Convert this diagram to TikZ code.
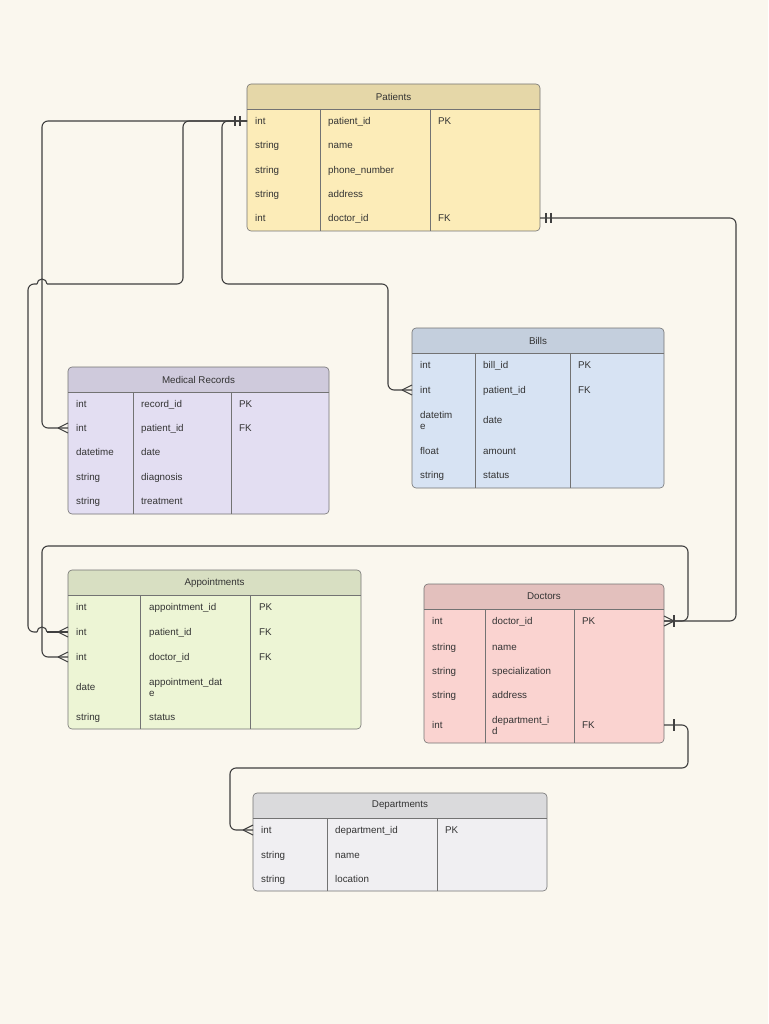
\documentclass[tikz,border=0pt]{standalone}
\usepackage{fontspec}
\setmainfont{Liberation Sans}
\begin{document}
\begin{tikzpicture}[x=1pt,y=-1pt,
  txt/.style={anchor=base west,inner sep=0,yshift=-3.5pt,font=\fontsize{9.8}{11.5}\selectfont,text=black!80,align=left},
  ttl/.style={inner sep=0,font=\fontsize{9.8}{10}\selectfont,text=black!80},
  conn/.style={line width=1.1pt,draw=black!75,rounded corners=6pt},
  mk/.style={line width=1.1pt,draw=black!75}]
\definecolor{bgc}{RGB}{250,247,238}
\definecolor{cPat}{RGB}{252,236,184}
\definecolor{cBill}{RGB}{215,227,243}
\definecolor{cMed}{RGB}{227,222,242}
\definecolor{cApp}{RGB}{237,245,213}
\definecolor{cDoc}{RGB}{250,211,208}
\definecolor{cDep}{RGB}{240,239,242}
\fill[bgc] (0,0) rectangle (768,1024);
\useasboundingbox (0,0) rectangle (768,1024);
\newcommand{\tb}[9]{%
  \fill[#9,rounded corners=4pt] (#1,#2) rectangle (#3,#4);
  \begin{scope}
    \clip[rounded corners=4pt] (#1,#2) rectangle (#3,#4);
    \fill[#9!91!black] (#1,#2) rectangle (#3,#5);
  \end{scope}
  \draw[black!55,line width=0.6pt] (#1,#5) -- (#3,#5) (#6,#5) -- (#6,#4) (#7,#5) -- (#7,#4);
  \draw[black!55,line width=0.6pt,rounded corners=4pt] (#1,#2) rectangle (#3,#4);
  \node[ttl] at ({(#1+#3)/2},{(#2+#5)/2}) {#8};}
% Patients
\tb{247}{84}{540}{231}{109}{320}{430}{Patients}{cPat}
\foreach \y/\a/\b/\c [count=\i] in {121/int/patient\_id/PK,145/string/name/,170/string/phone\_number/,194/string/address/,218/int/doctor\_id/FK}{
  \node[txt] (pa\i) at (255,\y) {\a}; \node[txt] (pb\i) at (328,\y) {\b}; \node[txt] (pc\i) at (438,\y) {\c};}
% Bills
\tb{412}{328}{664}{488}{353}{475}{570}{Bills}{cBill}
\foreach \y/\a/\c [count=\i] in {365/int/PK,390/int/FK,451/float/,475/string/}{
  \node[txt] (ba\i) at (420,\y) {\a}; \node[txt] (bc\i) at (578,\y) {\c};}
\node[txt] (ba5) at (420,426) {datetim\\e};
\node[txt] (bb1) at (483,365) {bill\_id};
\node[txt] (bb2) at (483,390) {patient\_id};
\node[txt] (bb3) at (483,420) {date};
\node[txt] (bb4) at (483,451) {amount};
\node[txt] (bb5) at (483,475) {status};
% Medical Records
\tb{68}{367}{329}{514}{392}{133}{231}{Medical Records}{cMed}
\foreach \y/\a/\b/\c [count=\i] in {404/int/record\_id/PK,428/int/patient\_id/FK,452/datetime/date/,477/string/diagnosis/,501/string/treatment/}{
  \node[txt] (ma\i) at (76,\y) {\a}; \node[txt] (mb\i) at (141,\y) {\b}; \node[txt] (mc\i) at (239,\y) {\c};}
% Appointments
\tb{68}{570}{361}{729}{595}{140}{250}{Appointments}{cApp}
\foreach \y/\a/\c [count=\i] in {607/int/PK,632/int/FK,657/int/FK,687/date/,717/string/}{
  \node[txt] (aa\i) at (76,\y) {\a}; \node[txt] (ac\i) at (259,\y) {\c};}
\node[txt] (ab1) at (149,607) {appointment\_id};
\node[txt] (ab2) at (149,632) {patient\_id};
\node[txt] (ab3) at (149,657) {doctor\_id};
\node[txt] (ab4) at (149,693) {appointment\_dat\\e};
\node[txt] (ab5) at (149,717) {status};
% Doctors
\tb{424}{584}{664}{743}{609}{485}{574}{Doctors}{cDoc}
\foreach \y/\a/\c [count=\i] in {621/int/PK,647/string/,671/string/,695/string/,725/int/FK}{
  \node[txt] (da\i) at (432,\y) {\a}; \node[txt] (dc\i) at (582,\y) {\c};}
\node[txt] (db1) at (492,621) {doctor\_id};
\node[txt] (db2) at (492,647) {name};
\node[txt] (db3) at (492,671) {specialization};
\node[txt] (db4) at (492,695) {address};
\node[txt] (db5) at (492,731) {department\_i\\d};
% Departments
\tb{253}{793}{547}{891}{818}{327}{437}{Departments}{cDep}
\foreach \y/\a/\b/\c [count=\i] in {830/int/department\_id/PK,855/string/name/,879/string/location/}{
  \node[txt] (ea\i) at (261,\y) {\a}; \node[txt] (eb\i) at (335,\y) {\b}; \node[txt] (ec\i) at (445,\y) {\c};}
% anchor coordinates
\coordinate (PatL) at (247,121); \coordinate (PatR) at (540,218);
\coordinate (MedP) at (68,428); \coordinate (BillP) at (412,390);
\coordinate (AppP) at (68,632); \coordinate (AppD) at (68,657);
\coordinate (DocR) at (664,621); \coordinate (DocDep) at (664,725);
\coordinate (DepL) at (253,830);
\coordinate (H1) at (47,284); \coordinate (H2) at (37,284);
\coordinate (H3) at (37,632); \coordinate (H4) at (47,632);
% connectors
\draw[conn] (PatL) -- (42,121) -- (42,428) -- (MedP);
\draw[conn] (PatL) -- (183,121) -- (183,284) -- (H1);
\draw[mk] (H1) arc[start angle=0,end angle=-180,radius=5];
\draw[conn] (H2) -- (28,284) -- (28,632) -- (H3);
\draw[mk] (H3) arc[start angle=180,end angle=360,radius=5];
\draw[conn] (H4) -- (AppP);
\draw[conn] (PatL) -- (222,121) -- (222,284) -- (388,284) -- (388,390) -- (BillP);
\draw[conn] (PatR) -- (736,218) -- (736,621) -- (DocR);
\draw[conn] (DocR) -- (688,621) -- (688,546) -- (42,546) -- (42,657) -- (AppD);
\draw[conn] (DocDep) -- (688,725) -- (688,768) -- (230,768) -- (230,830) -- (DepL);
% markers
\draw[mk] (235,116) -- (235,126) (240,116) -- (240,126);
\draw[mk] (546,213) -- (546,223) (551,213) -- (551,223);
\foreach \p in {MedP,BillP,AppP,AppD,DepL}{
  \draw[mk] ([xshift=-10pt]\p) -- ([yshift=-5pt]\p) ([xshift=-10pt]\p) -- ([yshift=5pt]\p);}
\draw[mk] ([xshift=10pt]DocR) -- ([yshift=-5pt]DocR) ([xshift=10pt]DocR) -- ([yshift=5pt]DocR);
\draw[mk] (674,615) -- (674,627);
\draw[mk] (674,719) -- (674,731);
\end{tikzpicture}
\end{document}
